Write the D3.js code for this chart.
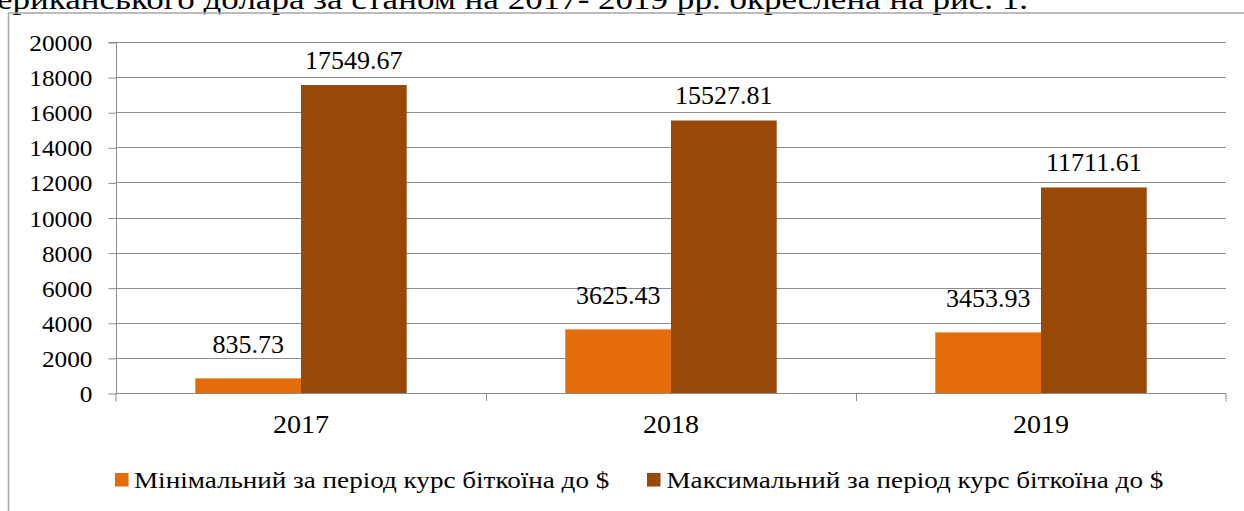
<!DOCTYPE html>
<html>
<head>
<meta charset="utf-8">
<script src="https://cdn.jsdelivr.net/npm/d3@7"></script>
<style>
  html, body { margin: 0; padding: 0; background: #fff; overflow: hidden; }
  svg { display: block; }
</style>
</head>
<body>
<svg id="chart" width="1244" height="511"></svg>
<script>
const categories = ["2017", "2018", "2019"];
const seriesNames = [
  "Мінімальний за період курс біткоїна до $",
  "Максимальний за період курс біткоїна до $"
];
const minValues = [835.73, 3625.43, 3453.93];
const maxValues = [17549.67, 15527.81, 11711.61];
const yTicks = [0, 2000, 4000, 6000, 8000, 10000, 12000, 14000, 16000, 18000, 20000];
const headerText = "ериканського долара за станом на 2017- 2019 рр. окреслена на рис. 1.";

const FONT = "Liberation Serif";
const colors = ["#E46C0A", "#984807"];
const labelGap = [25, 16.5];
const series = [minValues, maxValues];

const svg = d3.select("#chart");

function placeText(sel, x, y, s) {
  sel.attr("x", 0).attr("y", 0).attr("transform", `translate(${x},${y}) scale(${s},1)`);
}

// header text (cut off at top, as in the source page)
svg.append("text")
  .attr("x", -3).attr("y", 9)
  .attr("font-family", FONT)
  .attr("font-size", 29)
  .attr("textLength", 1031)
  .attr("lengthAdjust", "spacingAndGlyphs")
  .text(headerText);

// outer chart border
svg.append("rect")
  .attr("x", 8.5).attr("y", 13)
  .attr("width", 1260).attr("height", 520)
  .attr("fill", "none").attr("stroke", "#a6a6a6").attr("stroke-width", 1.5);

const x0 = 116, x1 = 1226, yTop = 42, yBot = 393;
const x = d3.scaleBand().domain(categories).range([x0, x1]).paddingInner(0).paddingOuter(0);
const y = d3.scaleLinear().domain([0, 20000]).range([yBot, yTop]);

const bw = x.bandwidth() / 3.5;
const xs = d3.scaleBand().domain([0, 1]).range([0, 2 * bw]).padding(0);
const groupOffset = (x.bandwidth() - 2 * bw) / 2;

// gridlines
svg.append("g").selectAll("line").data(yTicks.filter(d => d !== 0)).join("line")
  .attr("x1", x0).attr("x2", x1)
  .attr("y1", d => Math.round(y(d)) + 0.5).attr("y2", d => Math.round(y(d)) + 0.5)
  .attr("stroke", "#8c8c8c").attr("stroke-width", 1);

// y axis
const yStretch = 1.1;
const yAxis = d3.axisLeft(y).tickValues(yTicks).tickSize(8).tickPadding(16).tickFormat(d => d);
const gy = svg.append("g").attr("transform", `translate(${x0 + 0.5},0.5)`).call(yAxis);
gy.attr("font-family", null).attr("font-size", null);
gy.select(".domain").attr("stroke", "#8c8c8c").attr("d", `M-8,${yTop}H0V${yBot}`);
gy.selectAll(".tick line").attr("stroke", "#8c8c8c");
gy.selectAll(".tick text")
  .attr("font-family", FONT).attr("font-size", 23).attr("fill", "#000")
  .attr("x", -24 / yStretch).attr("dy", "0.35em")
  .attr("transform", `scale(${yStretch},1)`);

// bars
series.forEach((vals, si) => {
  svg.append("g").selectAll("rect").data(vals).join("rect")
    .attr("x", (d, i) => x(categories[i]) + groupOffset + xs(si))
    .attr("width", xs.bandwidth())
    .attr("y", d => y(d))
    .attr("height", d => y(0) - y(d))
    .attr("fill", colors[si]);
  svg.append("g").selectAll("text").data(vals).join("text")
    .attr("x", (d, i) => x(categories[i]) + groupOffset + xs(si) + xs.bandwidth() / 2)
    .attr("y", d => y(d) - labelGap[si])
    .attr("text-anchor", "middle")
    .attr("font-family", FONT)
    .attr("font-size", 26)
    .text(d => d.toFixed(2));
});

// x axis
const xStretch = 1.12;
const xAxis = d3.axisBottom(x).tickSize(0).tickPadding(0);
const gx = svg.append("g").attr("transform", `translate(0,${yBot + 0.5})`).call(xAxis);
gx.attr("font-family", null).attr("font-size", null);
gx.select(".domain").attr("stroke", "#8c8c8c").attr("d", `M${x0},8V0H${x1}V8`);
gx.selectAll(".tick text")
  .attr("font-family", FONT).attr("font-size", 25).attr("fill", "#000")
  .attr("y", 39.5).attr("dy", null)
  .attr("transform", `scale(${xStretch},1)`);
// category boundary ticks
svg.append("g").selectAll("line").data(categories.slice(1)).join("line")
  .attr("x1", d => Math.round(x(d)) + 0.5).attr("x2", d => Math.round(x(d)) + 0.5)
  .attr("y1", yBot).attr("y2", yBot + 8)
  .attr("stroke", "#8c8c8c");

// legend
const legendPos = [{sx: 115, tx: 134}, {sx: 647, tx: 666.5}];
const lg = svg.append("g");
seriesNames.forEach((name, i) => {
  lg.append("rect").attr("x", legendPos[i].sx).attr("y", 473).attr("width", 13.5).attr("height", 13.5).attr("fill", colors[i]);
  const t = lg.append("text").attr("font-family", FONT).attr("font-size", 24).text(name);
  placeText(t, legendPos[i].tx, 488, 1.13);
});
</script>
</body>
</html>
